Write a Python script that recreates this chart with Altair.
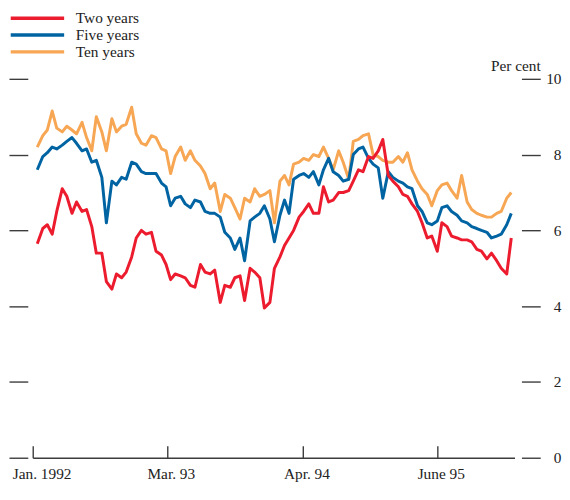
import altair as alt
import pandas as pd

# semi-monthly observation grid (1st and 15th of each month)
dates = pd.date_range("1992-01-15", "1996-01-15", freq="SMS")

ten_years = [8.2, 8.5, 8.65, 9.15, 8.7, 8.6, 8.75, 8.65, 8.55, 8.85,
             8.45, 8.1, 9.0, 8.6, 8.1, 8.95, 8.6, 8.75, 8.8, 9.25,
             8.55, 8.3, 8.25, 8.5, 8.45, 8.15, 8.1, 7.5, 7.95, 8.2,
             7.85, 8.1, 7.85, 7.7, 7.5, 7.1, 7.25, 6.5, 6.95, 6.85,
             6.6, 6.3, 6.85, 6.75, 7.1, 6.9, 6.95, 7.05, 6.2, 7.3,
             7.45, 7.2, 7.75, 7.8, 7.9, 7.85, 8.0, 7.95, 8.2, 7.9,
             7.6, 8.1, 7.8, 7.35, 8.35, 8.4, 8.5, 8.55, 8.0, 7.95,
             7.85, 7.8, 7.8, 7.95, 7.8, 8.05, 7.6, 7.3, 7.1, 6.95,
             6.65, 7.05, 7.2, 7.25, 7.05, 6.85, 7.45, 6.75, 6.55, 6.45,
             6.4, 6.35, 6.35, 6.45, 6.5, 6.85, 7.0]

five_years = [7.6, 7.95, 8.05, 8.2, 8.15, 8.25, 8.35, 8.45, 8.3, 8.1,
              8.15, 7.8, 7.85, 7.4, 6.2, 7.3, 7.2, 7.4, 7.35, 7.8,
              7.75, 7.55, 7.5, 7.5, 7.5, 7.25, 7.15, 6.65, 6.85, 6.9,
              6.7, 6.6, 6.8, 6.75, 6.5, 6.45, 6.45, 6.35, 5.95, 5.8,
              5.5, 5.8, 5.2, 6.25, 6.35, 6.45, 6.65, 6.3, 5.7, 6.4,
              6.8, 6.45, 7.35, 7.45, 7.5, 7.4, 7.55, 7.2, 7.6, 7.9,
              7.55, 7.45, 7.3, 7.35, 8.0, 8.15, 8.2, 7.9, 7.75, 7.65,
              6.85, 7.55, 7.4, 7.3, 7.25, 7.15, 7.1, 6.65, 6.5, 6.2,
              6.15, 6.25, 6.6, 6.65, 6.5, 6.4, 6.25, 6.2, 6.1, 6.05,
              6.0, 5.95, 5.8, 5.85, 5.9, 6.15, 6.45]

two_years = [5.65, 6.05, 6.15, 5.9, 6.5, 7.1, 6.9, 6.45, 6.75, 6.5,
             6.55, 6.1, 5.4, 5.4, 4.65, 4.45, 4.85, 4.75, 4.9, 5.3,
             5.8, 6.0, 5.9, 5.95, 5.45, 5.35, 5.1, 4.7, 4.85, 4.8,
             4.75, 4.55, 4.5, 5.1, 4.9, 4.85, 4.95, 4.1, 4.55, 4.5,
             4.75, 4.8, 4.15, 5.0, 4.9, 4.75, 3.95, 4.1, 5.0, 5.3,
             5.6, 5.8, 6.0, 6.35, 6.5, 6.7, 6.45, 6.45, 7.15, 6.75,
             6.8, 7.0, 7.0, 7.05, 7.3, 7.6, 7.55, 7.95, 7.9, 8.1,
             8.4, 7.45, 7.3, 7.15, 6.95, 6.9, 6.7, 6.5, 6.2, 5.8,
             5.85, 5.45, 6.2, 6.1, 5.85, 5.8, 5.75, 5.75, 5.7, 5.5,
             5.45, 5.25, 5.4, 5.2, 5.0, 4.85, 5.8]

series_names = ["Two years", "Five years", "Ten years"]
series_colors = ["#ec1c2e", "#0064a3", "#f7a654"]

tick_dates = [(1992, 1, 1), (1993, 2, 19), (1994, 4, 13), (1995, 6, 1)]
tick_labels = ["Jan. 1992", "Mar. 93", "Apr. 94", "June 95"]
y_ticks = [0, 2, 4, 6, 8, 10]

# draw order: ten (bottom), five, two (top)
rows = []
for name, vals in [("Ten years", ten_years), ("Five years", five_years), ("Two years", two_years)]:
    for d, v in zip(dates, vals):
        rows.append({"date": d.strftime("%Y-%m-%d"), "value": v, "series": name})
df = pd.DataFrame(rows)

FONT = "Liberation Serif"
TEXT = "#222222"
TICK = "#3c3c3c"

label_expr = "'" + tick_labels[-1] + "'"
for (yr, _, _), lab in reversed(list(zip(tick_dates[:-1], tick_labels[:-1]))):
    label_expr = f"year(datum.value) == {yr} ? '{lab}' : " + label_expr

x_scale = alt.Scale(domain=[alt.DateTime(year=1992, month=1, date=1),
                            alt.DateTime(year=1996, month=1, date=25)])
y_scale = alt.Scale(domain=[0, 10], nice=False)

lines = alt.Chart(df).mark_line(strokeWidth=3, strokeJoin="round").encode(
    x=alt.X("date:T", scale=x_scale,
            axis=alt.Axis(orient="bottom", ticks=False, labels=False, domain=True,
                          domainColor=TICK, domainWidth=1.4, grid=False, title=None)),
    y=alt.Y("value:Q", scale=y_scale,
            axis=alt.Axis(orient="left", values=y_ticks, labels=False, domain=False,
                          tickSize=19, tickColor=TICK, tickWidth=1.4, offset=5,
                          grid=False, title=None)),
    color=alt.Color("series:N",
                    scale=alt.Scale(domain=series_names, range=series_colors),
                    legend=alt.Legend(orient="none", legendX=-25, legendY=-69,
                                      title=None, symbolType="M-1,0H9.8",
                                      symbolSize=100, symbolStrokeWidth=3.5,
                                      labelFont=FONT, labelFontSize=15.5,
                                      labelColor=TEXT, labelOffset=53,
                                      rowPadding=0, padding=0)),
    detail="series:N",
)

ghost = alt.Chart(df).mark_line(opacity=0).encode(
    x=alt.X("date:T", scale=x_scale,
            axis=alt.Axis(orient="bottom", offset=-12, tickSize=12, tickColor=TICK,
                          tickWidth=1.4, domain=False, grid=False, title=None,
                          values=[alt.DateTime(year=y, month=m, date=d) for (y, m, d) in tick_dates],
                          labelExpr=label_expr, labelFlush=False, labelOverlap=False,
                          labelFont=FONT, labelFontSize=15.5, labelColor=TEXT,
                          labelPadding=9,
                          labelOffset={"condition": {"test": "year(datum.value) == 1992", "value": 9},
                                       "value": 3.5})),
    y=alt.Y("value:Q", scale=y_scale,
            axis=alt.Axis(orient="right", values=y_ticks, domain=False, grid=False,
                          tickSize=19, tickColor=TICK, tickWidth=1.4, offset=7,
                          labelAlign="right", labelPadding=21, labelFont=FONT,
                          labelFontSize=15.5, labelColor=TEXT,
                          title="Per cent", titleAngle=0, titleAlign="right",
                          titleBaseline="middle", titleX=19, titleY=-13,
                          titleFont=FONT, titleFontSize=15.5, titleFontWeight="normal",
                          titleColor=TEXT)),
    detail="series:N",
)

chart = alt.layer(lines, ghost).resolve_axis(x="independent", y="independent").properties(
    width=487, height=383,
    autosize=alt.AutoSizeParams(type="none"),
    padding={"left": 25, "top": 69, "right": 48, "bottom": 30},
).configure_view(stroke=None)

chart.save("out.html", embed_options={"renderer": "svg", "actions": False})
